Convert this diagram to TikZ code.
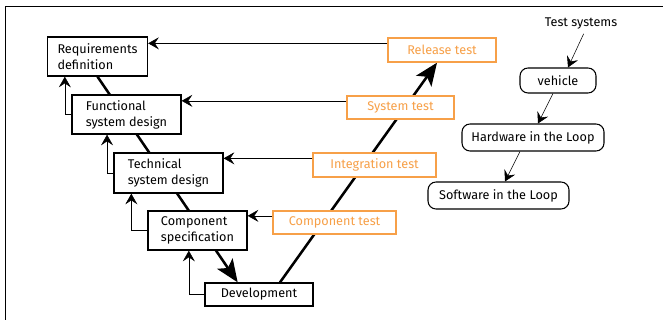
\documentclass[tikz,border=0pt]{standalone}
\usepackage{fontspec}
\setmainfont{Fira Sans}
\usepackage{xcolor}
\usetikzlibrary{arrows.meta,positioning,calc}
\pgfdeclarelayer{background}
\pgfsetlayers{background,main}
\definecolor{testorange}{RGB}{247,160,72}

\begin{document}
\begin{tikzpicture}[x=0.75pt,y=-0.75pt,>={Stealth[length=8pt,width=9pt,inset=3pt]},line width=0.9pt,
    font=\fontsize{9.5}{12}\selectfont,
    vbox/.style={draw=black,fill=white,line width=1pt,align=left,inner sep=2pt},
    tbox/.style={draw=testorange,fill=white,text=testorange,line width=1pt,inner sep=2pt},
    sbox/.style={draw=black,fill=white,rounded corners=6pt,line width=0.8pt,inner sep=2pt},
    vline/.style={line width=1.9pt,-{Stealth[length=17pt,width=14pt,inset=4pt]}}]
%
   \useasboundingbox (0,0) rectangle (663,320);
   \draw[line width=0.6pt] (5,320) -- (5,6) -- (663,6);
%
   \node[vbox,minimum width=75pt,minimum height=29.25pt]    (req) at (97.5,56.5)  {Requirements\\definition};
   \node[vbox,minimum width=81.75pt,minimum height=29.25pt] (fun) at (126.5,114.5) {Functional\\system design};
   \node[vbox,minimum width=81.75pt,minimum height=30pt]    (tec) at (168.5,173)  {Technical\\system design};
   \node[vbox,minimum width=74.25pt,minimum height=29.25pt] (com) at (197.5,230.5) {Component\\specification};
   \node[vbox,minimum width=81pt,minimum height=17.25pt]    (dev) at (259,294.5)  {Development};
%
   \node[tbox,minimum width=81pt,minimum height=18pt]       (rel) at (442,50)     {Release test};
   \node[tbox,minimum width=80.25pt,minimum height=17.25pt] (sys) at (400.5,107.5) {System test};
   \node[tbox,minimum width=92.25pt,minimum height=18pt]    (int) at (374.5,165)  {Integration test};
   \node[tbox,minimum width=92.25pt,minimum height=17.25pt] (cte) at (334.5,222.5) {Component test};
%
   \node                                                    (ts)  at (581,23)     {Test systems};
   \node[sbox,minimum width=57pt,minimum height=18.75pt]    (veh) at (558,80.5)   {vehicle};
   \node[sbox,minimum width=106.5pt,minimum height=20.25pt] (hil) at (533,137.5)  {Hardware in the Loop};
   \node[sbox,minimum width=105.75pt,minimum height=20.25pt] (sil) at (498.5,195.5) {Software in the Loop};
%
   \begin{pgfonlayer}{background}
   \draw[vline] (req.south) -- ([xshift=-16pt]dev.north);
   \draw[vline] ([xshift=15.75pt]dev.north) -- ([xshift=-3.75pt]rel.south);
   \end{pgfonlayer}
%
   \draw[->] ([yshift=5pt]rel.west) -- ([yshift=5pt]rel.west -| req.east);
   \draw[->] ([yshift=5pt]sys.west) -- ([yshift=5pt]sys.west -| fun.east);
   \draw[->] ([yshift=5pt]int.west) -- ([yshift=5pt]int.west -| tec.east);
   \draw[->] ([yshift=5pt]cte.west) -- ([yshift=5pt]cte.west -| com.east);
%
   \draw[->] (fun.west) -| ([xshift=13.5pt]req.south west);
   \draw[->] (tec.west) -| ([xshift=-14.6pt]fun.south);
   \draw[->] (com.west) -| ([xshift=13.5pt]tec.south west);
   \draw[->] (dev.west) -| ([xshift=-6.5pt]com.south);
%
   \draw[->] ([xshift=2pt]ts.south) -- ([xshift=7.5pt]veh.north);
   \draw[->] ([xshift=-3.75pt]veh.south) -- ([xshift=3.75pt]hil.north);
   \draw[->] ([xshift=-9.75pt]hil.south) -- ([xshift=4.9pt]sil.north);
\end{tikzpicture}
\end{document}
